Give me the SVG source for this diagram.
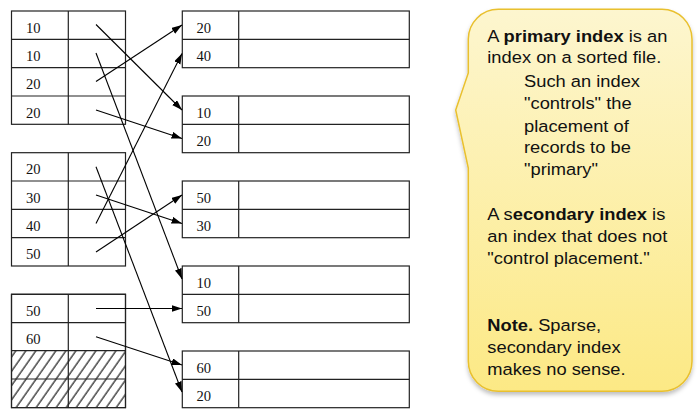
<svg xmlns="http://www.w3.org/2000/svg" width="697" height="409" viewBox="0 0 697 409">
  <defs>
    <style>
      .cell { fill: #ffffff; stroke: #222; stroke-width: 1.2; }
      .grid { stroke: #222; stroke-width: 1.2; fill: none; }
      .val { font-family: "Liberation Serif", "DejaVu Serif", serif; font-size: 14.6px; fill: #111; }
      .conn { stroke: #000; stroke-width: 1.1; fill: none; marker-end: url(#arrow); }
      .note { font-family: "Liberation Sans", Arial, sans-serif; font-size: 17px; fill: #111; }
      .b { font-weight: bold; }
    </style>
    <marker id="arrow" markerUnits="userSpaceOnUse" markerWidth="11" markerHeight="8" refX="10.5" refY="3.5" orient="auto">
      <path d="M0,0 L10.5,3.5 L0,7 Z" fill="#000"/>
    </marker>
    <pattern id="hatch" patternUnits="userSpaceOnUse" width="8.2" height="10" patternTransform="rotate(35)">
      <line x1="1" y1="0" x2="1" y2="10" stroke="#111" stroke-width="1.15"/>
    </pattern>
    <linearGradient id="noteFill" x1="0" y1="0" x2="0" y2="1">
      <stop offset="0" stop-color="#fdf6cf"/>
      <stop offset="1" stop-color="#fce985"/>
    </linearGradient>
    <filter id="shadow" x="-10%" y="-10%" width="120%" height="120%">
      <feDropShadow dx="0" dy="3" stdDeviation="2" flood-color="#000" flood-opacity="0.25"/>
    </filter>
  </defs>

  <!-- Index blocks -->
  <g id="index1">
    <rect class="cell" x="11.5" y="11" width="114" height="113.3"/>
    <path class="grid" d="M68.3,11 V124.3 M11.5,39.3 H125.5 M11.5,67.7 H125.5 M11.5,96 H125.5"/>
    <text class="val" x="26" y="32.5">10</text>
    <text class="val" x="26" y="60.8">10</text>
    <text class="val" x="26" y="89.2">20</text>
    <text class="val" x="26" y="117.5">20</text>
  </g>
  <g id="index2">
    <rect class="cell" x="11.5" y="152.7" width="114" height="113.3"/>
    <path class="grid" d="M68.3,152.7 V266 M11.5,181 H125.5 M11.5,209.3 H125.5 M11.5,237.7 H125.5"/>
    <text class="val" x="26" y="174.2">20</text>
    <text class="val" x="26" y="202.5">30</text>
    <text class="val" x="26" y="230.8">40</text>
    <text class="val" x="26" y="259.2">50</text>
  </g>
  <g id="index3">
    <rect class="cell" x="11.5" y="294.3" width="114" height="113.3"/>
    <rect x="11.5" y="350.7" width="114" height="56.9" fill="url(#hatch)"/>
    <rect x="11.5" y="294.3" width="114" height="113.3" fill="none" stroke="#222" stroke-width="1.2"/>
    <path class="grid" d="M68.3,294.3 V407.6 M11.5,322.7 H125.5 M11.5,350.7 H125.5 M11.5,379 H125.5"/>
    <text class="val" x="26" y="315.8">50</text>
    <text class="val" x="26" y="344.2">60</text>
  </g>

  <!-- Data blocks -->
  <g id="data1">
    <rect class="cell" x="182.3" y="11" width="227" height="56.7"/>
    <path class="grid" d="M238.7,11 V67.7 M182.3,39.3 H409.3"/>
    <text class="val" x="196.5" y="32.5">20</text>
    <text class="val" x="196.5" y="60.8">40</text>
  </g>
  <g id="data2">
    <rect class="cell" x="182.3" y="96" width="227" height="56.7"/>
    <path class="grid" d="M238.7,96 V152.7 M182.3,124.3 H409.3"/>
    <text class="val" x="196.5" y="117.5">10</text>
    <text class="val" x="196.5" y="145.8">20</text>
  </g>
  <g id="data3">
    <rect class="cell" x="182.3" y="181" width="227" height="56.7"/>
    <path class="grid" d="M238.7,181 V237.7 M182.3,209.3 H409.3"/>
    <text class="val" x="196.5" y="202.5">50</text>
    <text class="val" x="196.5" y="230.8">30</text>
  </g>
  <g id="data4">
    <rect class="cell" x="182.3" y="266" width="227" height="56.7"/>
    <path class="grid" d="M238.7,266 V322.7 M182.3,294.3 H409.3"/>
    <text class="val" x="196.5" y="287.5">10</text>
    <text class="val" x="196.5" y="315.8">50</text>
  </g>
  <g id="data5">
    <rect class="cell" x="182.3" y="351" width="227" height="56.7"/>
    <path class="grid" d="M238.7,351 V407.7 M182.3,379.3 H409.3"/>
    <text class="val" x="196.5" y="372.5">60</text>
    <text class="val" x="196.5" y="400.8">20</text>
  </g>

  <!-- Connectors -->
  <g id="connectors">
    <line class="conn" x1="96" y1="24.5" x2="182" y2="110"/>
    <line class="conn" x1="96" y1="53" x2="182" y2="279"/>
    <line class="conn" x1="96" y1="81.5" x2="182" y2="25"/>
    <line class="conn" x1="96" y1="110" x2="182" y2="138.5"/>
    <line class="conn" x1="96" y1="166.7" x2="182" y2="392"/>
    <line class="conn" x1="96" y1="195" x2="182" y2="223.5"/>
    <line class="conn" x1="96" y1="223.5" x2="182" y2="53.5"/>
    <line class="conn" x1="96" y1="252" x2="182" y2="195"/>
    <line class="conn" x1="96" y1="308.5" x2="182" y2="308.5"/>
    <line class="conn" x1="96" y1="336.8" x2="182" y2="365"/>
  </g>

  <!-- Callout -->
  <g id="callout">
    <path d="M468.3,73 V39 A30,30 0 0 1 498.3,9.3 H662 A30,30 0 0 1 692,39.3 V361.3 A30,30 0 0 1 662,391.3 H498.3 A30,30 0 0 1 468.3,361.3 V168 L455.7,110 Z" fill="url(#noteFill)" stroke="#e9c02e" stroke-width="1.5" filter="url(#shadow)"/>
    <g transform="translate(487.3 0) scale(1.077 1)">
      <text class="note" x="0" y="41.7">A <tspan class="b">primary index</tspan> is an</text>
      <text class="note" x="0" y="63.3">index on a sorted file.</text>
      <text class="note" x="34.1" y="86.7">Such an index</text>
      <text class="note" x="34.1" y="109">"controls" the</text>
      <text class="note" x="34.1" y="131.7">placement of</text>
      <text class="note" x="34.1" y="153.3">records to be</text>
      <text class="note" x="34.1" y="175">"primary"</text>
      <text class="note" x="0" y="220">A s<tspan class="b">econdary index</tspan> is</text>
      <text class="note" x="0" y="242.3">an index that does not</text>
      <text class="note" x="0" y="264">"control placement."</text>
      <text class="note" x="0" y="330.7"><tspan class="b">Note.</tspan> Sparse,</text>
      <text class="note" x="0" y="352.7">secondary index</text>
      <text class="note" x="0" y="375">makes no sense.</text>
    </g>
  </g>
</svg>
